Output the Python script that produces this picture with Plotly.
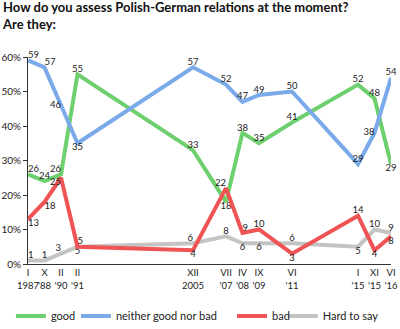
import plotly.graph_objects as go

# time index positions of surveys (axis is not linear in time)
x_pos = [0, 1, 2, 3, 10, 12, 13, 14, 16, 20, 21, 22]
tick_labels = ["I<br>1987", "X<br>'88", "II<br>'90", "II<br>'91", "XII<br>2005", "VII<br>'07",
               "IV<br>'08", "IX<br>'09", "VI<br>'11", "I<br>'15", "XI<br>'15", "VI<br>'16"]
y_ticks = [0, 10, 20, 30, 40, 50, 60]

good = [26, 24, 26, 55, 33, 18, 38, 35, 41, 52, 48, 29]
neither = [59, 57, 46, 35, 57, 52, 47, 49, 50, 29, 38, 54]
bad = [13, 18, 25, 5, 4, 22, 9, 10, 3, 14, 4, 8]
hard = [1, 1, 3, 5, 6, 8, 6, 6, 6, 5, 10, 9]

pos_good = ["top right", "top center", "top left", "top center", "top center", "bottom center",
            "top center", "top center", "top center", "top center", "top center", "bottom center"]
pos_neither = ["top right", "top right", "middle left", "bottom center", "top center", "top center",
               "top center", "top center", "top center", "top center", "middle left", "top center"]
pos_bad = ["bottom right", "bottom right", "bottom left", "top right", "bottom center", "top left",
           "top right", "top center", "bottom center", "top center", "bottom center", "bottom center"]
pos_hard = ["top right", "top center", "top left", "bottom center", "top left", "top center",
            "bottom center", "bottom center", "top center", "bottom center", "top center", "top center"]

series = [
    ("good", good, "#6dcf6d", pos_good),
    ("neither good nor bad", neither, "#7aaaea", pos_neither),
    ("bad", bad, "#ef5353", pos_bad),
    ("Hard to say", hard, "#c4c4c4", pos_hard),
]

FONT = "Lato"
legend_ids = {"good": "legend", "neither good nor bad": "legend2", "bad": "legend3", "Hard to say": "legend4"}
legend_x = {"legend": -0.047, "legend2": 0.132, "legend3": 0.562, "legend4": 0.702}

fig = go.Figure()
# draw grey first so coloured lines sit on top
for name, vals, color, pos in [series[3], series[0], series[1], series[2]]:
    fig.add_trace(go.Scatter(
        x=x_pos, y=vals, name=name, mode="lines+text",
        line=dict(color=color, width=4),
        text=[str(v) for v in vals], textposition=pos,
        textfont=dict(size=9.5, color="#222", family=FONT),
        cliponaxis=False, legend=legend_ids[name],
    ))

legend_common = dict(orientation="h", y=-0.251, yanchor="middle", xanchor="left",
                     font=dict(size=11, color="#222", family=FONT), itemwidth=30,
                     bgcolor="rgba(0,0,0,0)")

fig.update_layout(
    width=400, height=329,
    margin=dict(l=28, r=9, t=57, b=65, autoexpand=False),
    paper_bgcolor="white", plot_bgcolor="white",
    font=dict(family=FONT, size=11, color="#222"),
    showlegend=True,
    legend=dict(x=legend_x["legend"], **legend_common),
    legend2=dict(x=legend_x["legend2"], **legend_common),
    legend3=dict(x=legend_x["legend3"], **legend_common),
    legend4=dict(x=legend_x["legend4"], **legend_common),
    xaxis=dict(range=[0, 22], tickvals=x_pos, ticktext=tick_labels, showgrid=False,
               zeroline=False, showline=True, linecolor="#333", linewidth=1,
               ticks="", tickangle=0, tickfont=dict(size=9.5), automargin=False),
    yaxis=dict(range=[0, 60], tickvals=y_ticks, ticktext=[f"{v}%" for v in y_ticks],
               showgrid=False, zeroline=False, showline=True, linecolor="#333", linewidth=1,
               ticks="outside", ticklen=4, tickcolor="#333", tickfont=dict(size=10),
               automargin=False),
    annotations=[dict(
        text="<b>How do you assess Polish-German relations at the moment?<br>Are they:</b>",
        xref="paper", yref="paper", x=0, y=1, xanchor="left", yanchor="top",
        xshift=-28, yshift=60, showarrow=False, align="left",
        font=dict(size=13, color="#111", family=FONT),
    )],
)

fig.write_html("out.html")
